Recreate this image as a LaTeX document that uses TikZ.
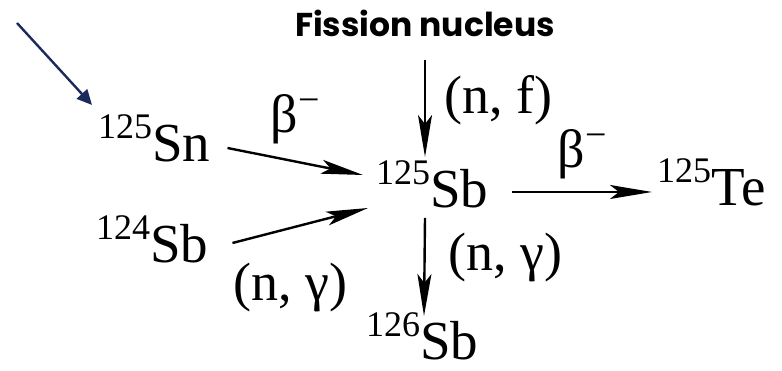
\documentclass[tikz,border=0pt]{standalone}
\usepackage{fontspec}
\setmainfont{Liberation Serif}
\newfontfamily\titlefont{Poppins}
\usetikzlibrary{arrows.meta,positioning}
\definecolor{navyarrow}{HTML}{1B2A5C}
\newcommand{\iso}[2]{\raisebox{23pt}{\fontsize{36}{40}\selectfont #1}#2}
\newcommand{\betam}{β\raisebox{20pt}{\fontsize{38}{40}\selectfont −}}

\begin{document}
\begin{tikzpicture}[
  x=1pt,y=1pt,
  nuclide/.style={inner sep=0pt,anchor=base west,font=\fontsize{55}{60}\selectfont},
  channel/.style={inner sep=0pt,font=\fontsize{54}{60}\selectfont},
  react/.style={line width=2.4pt,-{Stealth[length=42pt,width=14pt,inset=9pt]}}
]
  \useasboundingbox (0,0) rectangle (782,371);
  \node[anchor=base,inner sep=0pt,font=\titlefont\bfseries\fontsize{33}{38}\selectfont] (fission) at (425,334) {Fission nucleus};
  \node[nuclide] (sn125) at (98,209) {\iso{125}{Sn}};
  \node[nuclide] (sb125) at (376,163) {\iso{125}{Sb}};
  \node[nuclide] (te125) at (657,165) {\iso{125}{Te}};
  \node[nuclide] (sb124) at (96,108) {\iso{124}{Sb}};
  \node[nuclide] (sb126) at (366,11) {\iso{126}{Sb}};

  % pointer to the tin parent
  \coordinate (pointer) at (17,348);
  \draw[navyarrow,line width=2.4pt,-{Triangle[length=15pt,width=14pt]}] (pointer) -- ([shift={(-6,10)}]sn125.north west);

  \draw[react] ([yshift=-23]fission.south) -- node[channel,right=18pt,pos=0.41]{(n, f)} ([shift={(49,51)}]sb125.base west);
  \draw[react] ([shift={(17,14)}]sn125.base east) -- node[channel,above=16pt]{\betam} ([shift={(-13,33)}]sb125.base west);
  \draw[react] ([shift={(24,20)}]sb124.base east) -- node[channel,at start,below right=19pt and 0pt]{(n, γ)} ([shift={(-8,0)}]sb125.base west);
  \draw[react] ([shift={(24,16)}]sb125.base east) -- node[channel,above=12pt]{\betam} ([shift={(-5,14)}]te125.base west);
  \draw[react] ([shift={(49,-10)}]sb125.base west) -- node[channel,right=23pt,pos=0.4]{(n, γ)} ([shift={(58,44)}]sb126.base west);
\end{tikzpicture}
\end{document}
